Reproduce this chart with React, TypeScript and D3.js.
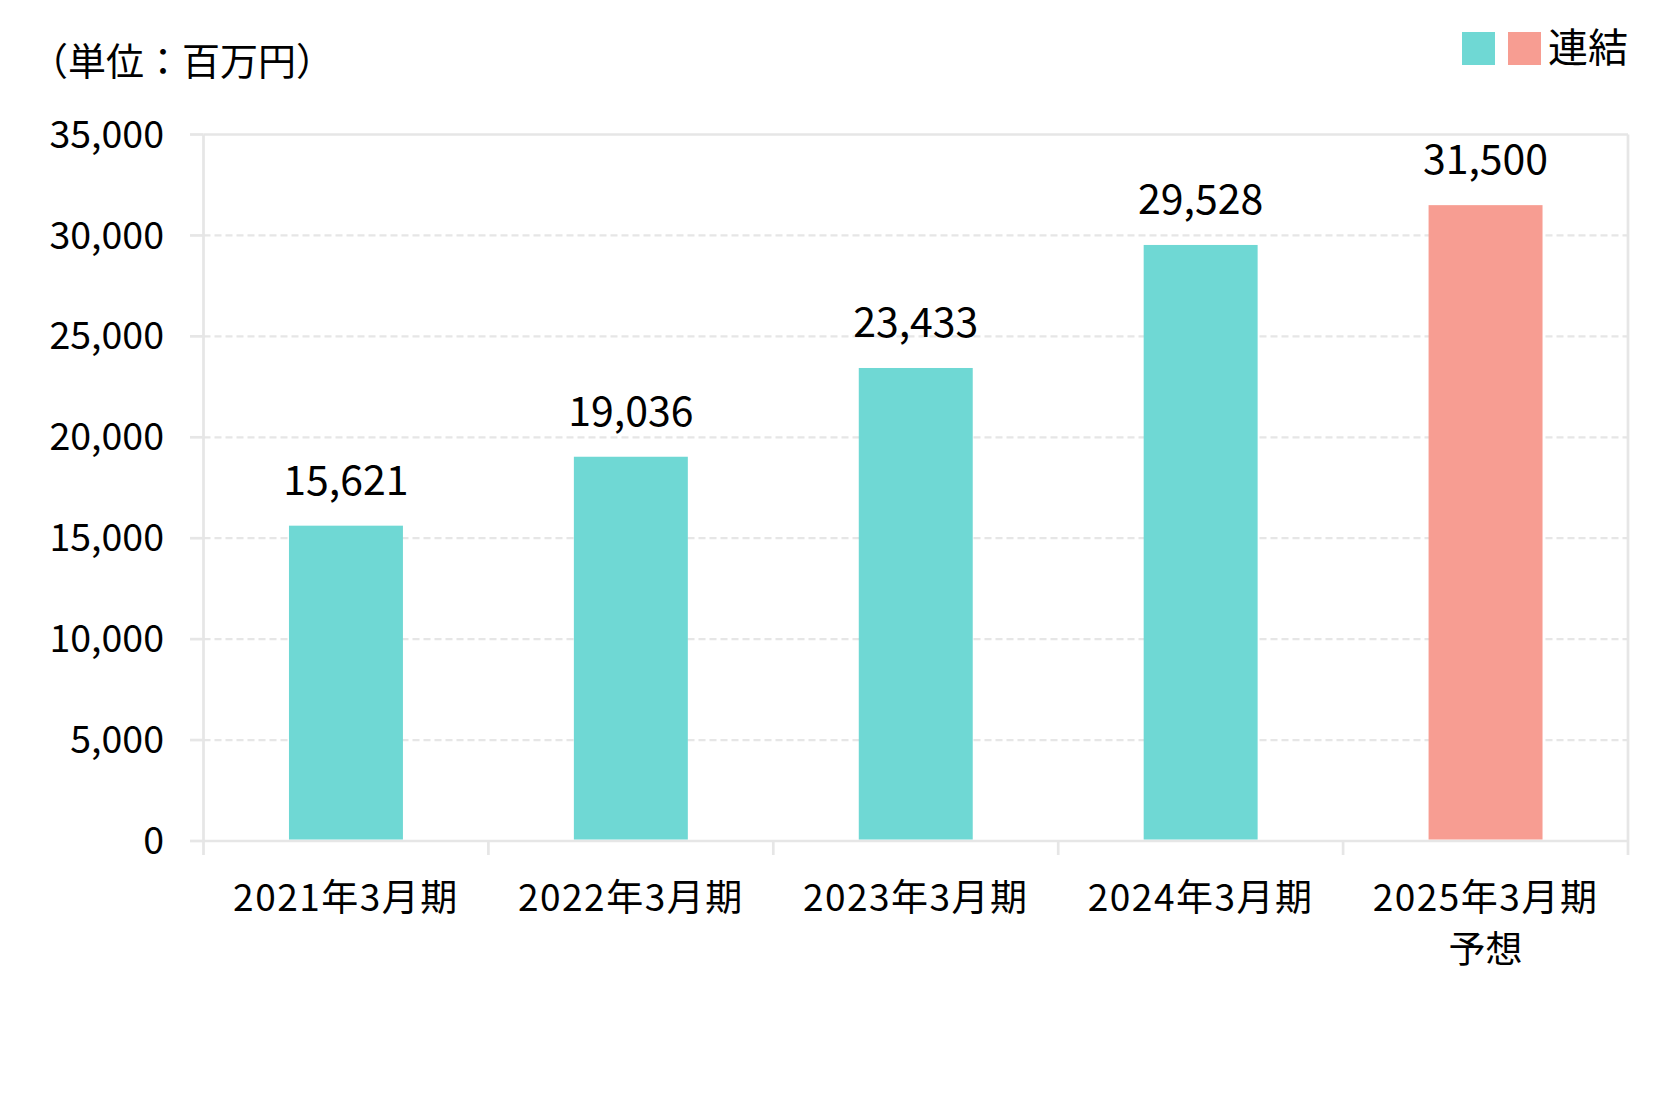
import React from "react";
import * as d3 from "d3";

const categories = ["2021年3月期", "2022年3月期", "2023年3月期", "2024年3月期", "2025年3月期"];
const subLabels = ["", "", "", "", "予想"];
const values = [15621, 19036, 23433, 29528, 31500];
const barColors = ["#6fd8d4", "#6fd8d4", "#6fd8d4", "#6fd8d4", "#f79d92"];
const yTicks = [0, 5000, 10000, 15000, 20000, 25000, 30000, 35000];
const unitLabel = "（単位：百万円）";
const legendLabel = "連結";

const W = 1669;
const H = 1094;
const FONT = "'Noto Sans CJK JP', 'Noto Sans', sans-serif";

export default function App() {
  const left = 203.5;
  const right = 1628;
  const top = 134.5;
  const bottom = 841;

  const x = d3.scaleBand<string>().domain(categories).range([left, right]).paddingInner(0.6).paddingOuter(0.3);
  const y = d3.scaleLinear().domain([0, 35000]).range([bottom, top]);
  const step = x.step();
  const fmt = d3.format(",");
  const gridColor = "#e6e6e6";

  return (
    <svg width={W} height={H} style={{ position: "absolute", left: 0, top: 0, background: "#fff" }} fontFamily={FONT}>
      {/* unit label */}
      <text x={30} y={75} fontSize={38} fill="#000">{unitLabel}</text>

      {/* legend */}
      <rect x={1462} y={32} width={33} height={33} fill={barColors[0]} />
      <rect x={1508} y={32} width={33} height={33} fill={barColors[4]} />
      <text x={1548} y={62} fontSize={40} fill="#000">{legendLabel}</text>

      {/* gridlines */}
      {yTicks.map((t) => {
        const solid = t === 0 || t === 35000;
        return (
          <g key={t}>
            <line x1={190} x2={left} y1={y(t)} y2={y(t)} stroke={gridColor} strokeWidth={2.7} />
            <line
              x1={left}
              x2={right}
              y1={y(t)}
              y2={y(t)}
              stroke={gridColor}
              strokeWidth={solid ? 2.7 : 2.2}
              strokeDasharray={solid ? undefined : "7,4"}
            />
            <text x={164} y={y(t)} dy="0.35em" textAnchor="end" fontSize={37.5} fill="#000">
              {fmt(t)}
            </text>
          </g>
        );
      })}

      {/* frame verticals */}
      <line x1={left} x2={left} y1={top} y2={bottom + 14} stroke={gridColor} strokeWidth={2.7} />
      <line x1={right} x2={right} y1={top} y2={bottom + 14} stroke={gridColor} strokeWidth={2.7} />
      {categories.slice(1).map((c, i) => (
        <line key={c} x1={left + step * (i + 1)} x2={left + step * (i + 1)} y1={bottom} y2={bottom + 14} stroke={gridColor} strokeWidth={2.7} />
      ))}

      {/* bars */}
      {categories.map((c, i) => (
        <g key={c}>
          <rect x={x(c)} y={y(values[i])} width={x.bandwidth()} height={y(0) - y(values[i]) - 1.5} fill={barColors[i]} />
          <text x={(x(c) as number) + x.bandwidth() / 2} y={y(values[i]) - 31} textAnchor="middle" fontSize={41} fill="#000">
            {fmt(values[i])}
          </text>
          <text x={(x(c) as number) + x.bandwidth() / 2} y={911} textAnchor="middle" fontSize={37} fill="#000" letterSpacing={1.5}>
            {c}
          </text>
          {subLabels[i] && (
            <text x={(x(c) as number) + x.bandwidth() / 2} y={963} textAnchor="middle" fontSize={37} fill="#000">
              {subLabels[i]}
            </text>
          )}
        </g>
      ))}
    </svg>
  );
}
